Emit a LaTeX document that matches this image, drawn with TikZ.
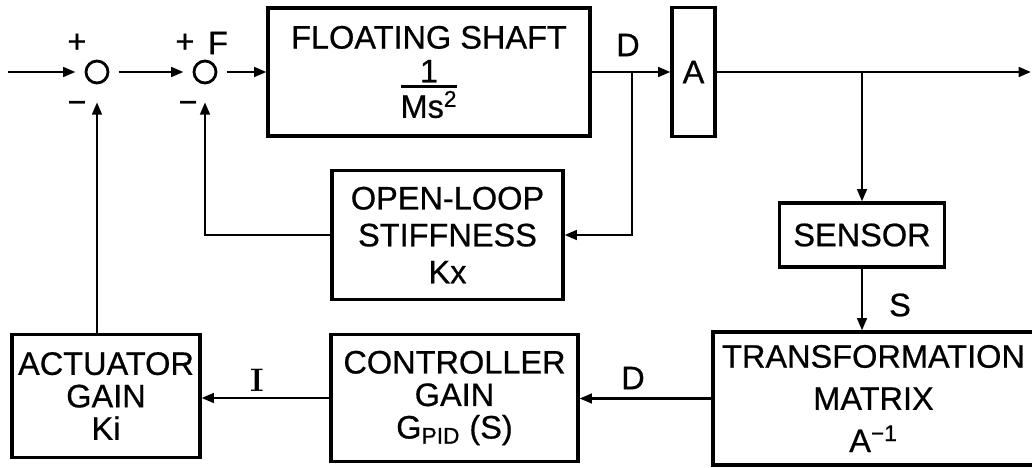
\documentclass[tikz,border=0pt]{standalone}
\usepackage{fontspec}
\usepackage{amsmath}
\newfontfamily\lettering{Liberation Sans}[FakeBold=0.6]
\usetikzlibrary{arrows.meta}

\tikzset{
  block/.style={draw, line width=1.8pt, align=center, inner sep=2pt,
    font={\lettering\fontsize{18.5}{21}\selectfont}},
  tight/.style={font={\lettering\fontsize{18.5}{18.5}\selectfont}},
  loose/.style={font={\lettering\fontsize{18.5}{24}\selectfont}},
  sumnode/.style={draw, circle, line width=1.6pt, minimum size=0.44cm,
    inner sep=0pt, outer sep=6pt},
  lbl/.style={inner sep=1pt, font={\lettering\fontsize{18.5}{21}\selectfont}},
  sig/.style={->, line width=1.4pt}
}

\begin{document}
\begin{tikzpicture}[>={Triangle[length=7pt,width=5.5pt]}]
    % White page with the reference's margins
    \fill[white] (0,0) rectangle (20.64,-9.36);
    \useasboundingbox (0,0) rectangle (20.64,-9.36);

    % Summing junctions
    \node[sumnode] (sum1) at (1.94,-1.44) {};
    \node[sumnode] (sum2) at (4.10,-1.44) {};
    \coordinate (in) at (0.16,-1.44);

    % Forward path
    \node[block, minimum width=6.44cm, minimum height=2.56cm] (shaft) at (8.58,-1.44)
        {FLOATING SHAFT\\[5pt]
         $\genfrac{}{}{1.6pt}{1}{\hbox{1}}{\hbox{Ms\textsuperscript{2}}}$};
    \node[block, minimum width=0.86cm, minimum height=2.58cm] (amat) at (13.87,-1.44) {A};
    \coordinate (b1) at (12.64,-1.44);
    \coordinate (b2) at (17.24,-1.44);
    \coordinate (out) at (20.62,-1.44);

    % Inner loop
    \node[block, minimum width=4.62cm, minimum height=2.58cm] (stiff) at (8.95,-4.70)
        {OPEN-LOOP\\STIFFNESS\\Kx};

    % Measurement and control path
    \node[block, minimum width=3.30cm, minimum height=1.28cm] (sensor) at (17.24,-4.70) {SENSOR};
    \node[block, loose, minimum width=6.42cm, minimum height=2.66cm] (tmat) at (17.47,-7.97)
        {TRANSFORMATION\\MATRIX\\A\textsuperscript{−1}};
    \node[block, tight, minimum width=4.94cm, minimum height=2.54cm] (ctrl) at (9.09,-7.96)
        {CONTROLLER\\GAIN\\G\textsubscript{PID} (S)};
    \node[block, tight, minimum width=3.76cm, minimum height=2.46cm] (act) at (2.12,-7.92)
        {ACTUATOR\\GAIN\\Ki};

    % Signs and signal names
    \node[lbl] (p1) at (1.54,-0.86) {+};
    \node[lbl] (m1) at (1.54,-2.14) {−};
    \node[lbl] (p2) at (3.70,-0.86) {+};
    \node[lbl] (m2) at (3.76,-2.14) {−};
    \node[lbl] (fsig) at (4.36,-0.86) {F};
    \node[lbl] (dtop) at (12.56,-0.90) {D};
    \node[lbl] (ssig) at (18.00,-6.10) {S};
    \node[lbl, font={\rmfamily\bfseries\fontsize{18.5}{21}\selectfont}] (isig) at (5.14,-7.60) {I};
    \node[lbl] (dbot) at (12.66,-7.56) {D};

    % Connectors
    \draw[sig] (in) -- (sum1);
    \draw[sig] (sum1) -- (sum2);
    \draw[sig] (sum2) -- (shaft);
    \draw[sig] (shaft) -- (amat);
    \draw[sig] (amat) -- (out);
    \draw[sig] (b1) |- (stiff);
    \draw[sig, shorten >=5pt] (stiff) -| (sum2);
    \draw[sig] (b2) -- (sensor);
    \draw[sig] (sensor) -- (sensor.south |- tmat.north);
    \draw[sig] (tmat.west) -- (tmat.west -| ctrl.east);
    \draw[sig] (ctrl.west) -- (ctrl.west -| act.east);
    \draw[sig, shorten >=5pt] (act.north -| sum1) -- (sum1);
\end{tikzpicture}
\end{document}
